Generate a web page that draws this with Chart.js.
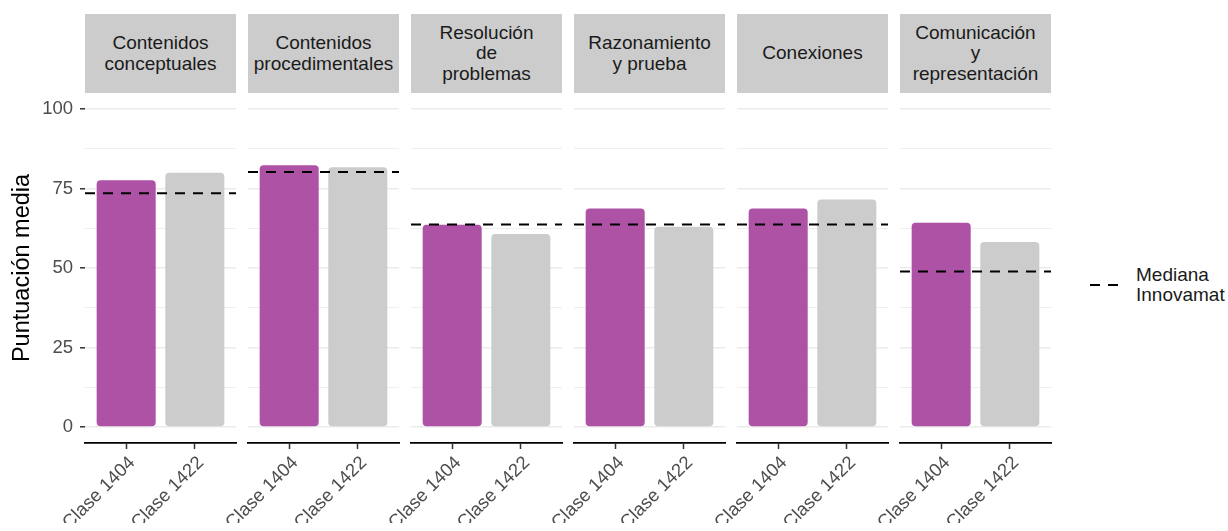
<!DOCTYPE html>
<html>
<head>
<meta charset="utf-8">
<script src="https://cdn.jsdelivr.net/npm/chart.js@4.4.0/dist/chart.umd.min.js"></script>
<style>
  body { margin: 0; background: #fff; font-family: "Liberation Sans", Arial, sans-serif; }
  #wrap { position: relative; width: 1228px; height: 531px; overflow: hidden; }
  #wrap canvas { position: absolute; left: 0; top: 0; }
  .strip {
    position: absolute; top: 14px; height: 79px; width: 151px;
    background: #cccccc; color: #1a1a1a; font-size: 19px; line-height: 20.5px;
    display: flex; align-items: center; justify-content: center; text-align: center;
  }
  #legendKey { position: absolute; left: 1086px; top: 280px; }
  #legendText { position: absolute; left: 1136px; top: 265px; font-size: 19px; line-height: 20px; color: #1a1a1a; }
</style>
</head>
<body>
<div id="wrap">
  <svg id="legendKey" width="36" height="10"><line x1="4" y1="5" x2="32" y2="5" stroke="#000" stroke-width="2" stroke-dasharray="10 8"/></svg>
  <div id="legendText">Mediana<br>Innovamat</div>
</div>
<script>
// data
const facetas = [
  ['Contenidos', 'conceptuales'],
  ['Contenidos', 'procedimentales'],
  ['Resolución', 'de', 'problemas'],
  ['Razonamiento', 'y prueba'],
  ['Conexiones'],
  ['Comunicación', 'y', 'representación']
];
const clases = ['Clase 1404', 'Clase 1422'];
const clase1404 = [77.6, 82.3, 63.6, 68.7, 68.7, 64.2];
const clase1422 = [79.9, 81.7, 60.7, 63.0, 71.5, 58.2];
const medianaInnovamat = [73.5, 80.2, 63.7, 63.7, 63.7, 48.9];
const yTicks = [0, 25, 50, 75, 100];
const yMinor = [12.5, 37.5, 62.5, 87.5];

const colores = ['#ad52a5', '#cccccc'];
const FONT = '"Liberation Sans", Arial, sans-serif';
const W = 1228, H = 531;
const panelW = 151, panelGap = 12, firstLeft = 85;
const plotTop = 93, plotBottom = 443;

const wrap = document.getElementById('wrap');
const series = [clase1404, clase1422];
const gridVals = yTicks.concat(yMinor).sort((a, b) => a - b);

facetas.forEach((lines, i) => {
  const left = firstLeft + i * (panelW + panelGap);
  const first = i === 0;

  const strip = document.createElement('div');
  strip.className = 'strip';
  strip.style.left = left + 'px';
  strip.innerHTML = lines.join('<br>');
  wrap.appendChild(strip);

  const cv = document.createElement('canvas');
  cv.width = W; cv.height = H;
  wrap.appendChild(cv);

  new Chart(cv, {
    type: 'bar',
    data: {
      datasets: [
        {
          type: 'line',
          data: [{ x: 0.4, y: medianaInnovamat[i] }, { x: 2.6, y: medianaInnovamat[i] }],
          borderColor: '#000', borderWidth: 2, borderDash: [10, 8],
          pointRadius: 0, order: 0
        },
        {
          type: 'bar',
          data: clases.map((c, j) => ({ x: j + 1, y: series[j][i] })),
          backgroundColor: colores,
          barPercentage: 0.86, categoryPercentage: 1,
          borderRadius: 4, borderSkipped: false, order: 1
        }
      ]
    },
    options: {
      responsive: false,
      animation: false,
      layout: { padding: { left: first ? 0 : left, right: W - left - panelW, top: plotTop, bottom: H - plotBottom - 80 } },
      plugins: { legend: { display: false }, tooltip: { enabled: false } },
      scales: {
        x: {
          type: 'linear', min: 0.4, max: 2.6, offset: false,
          afterBuildTicks: s => { s.ticks = clases.map((c, j) => ({ value: j + 1 })); },
          afterFit: s => { s.height = 80; },
          grid: { drawOnChartArea: false, offset: false, tickLength: 6, tickColor: '#333', tickWidth: 1.5 },
          border: { display: true, color: '#000', width: 1.8 },
          ticks: {
            callback: v => clases[v - 1],
            minRotation: 45, maxRotation: 45, autoSkip: false,
            color: '#4d4d4d', font: { size: 18.5, family: FONT },
            padding: 3, labelOffset: 6
          }
        },
        y: {
          min: -5, max: 105,
          afterBuildTicks: s => { s.ticks = gridVals.map(v => ({ value: v })); },
          afterFit: s => { s.width = first ? 85 : 0; },
          grid: {
            color: '#ebebeb',
            lineWidth: c => yTicks.includes(c.tick.value) ? 1.6 : 0.8,
            drawTicks: first, tickLength: 5, tickWidth: 1.5,
            tickColor: c => yTicks.includes(c.tick.value) ? '#333' : 'rgba(0,0,0,0)'
          },
          border: { display: false },
          ticks: {
            display: first, autoSkip: false,
            callback: v => yTicks.includes(v) ? String(v) : '',
            color: '#4d4d4d', font: { size: 18.5, family: FONT }, padding: 7
          },
          title: {
            display: first, text: 'Puntuación media', color: '#000',
            font: { size: 23.5, family: FONT }, padding: { top: 8, bottom: 0 }
          }
        }
      }
    }
  });
});
</script>
</body>
</html>
